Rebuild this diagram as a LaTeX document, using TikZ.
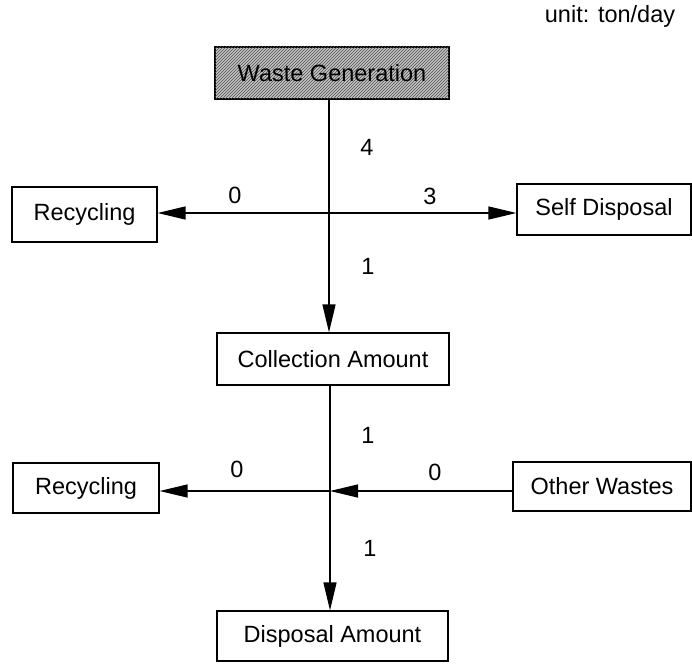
\documentclass[tikz,border=0pt]{standalone}
\usepackage{fontspec}
\setmainfont{Liberation Sans}
\usetikzlibrary{arrows.meta,patterns}
\begin{document}
\begin{tikzpicture}[x=1pt,y=-1pt,
  box/.style={draw,line width=1.2pt,rectangle,inner sep=0pt,font=\fontsize{23.5}{27}\selectfont},
  lbl/.style={font=\fontsize{23.5}{27}\selectfont,inner sep=0pt},
  flow/.style={line width=1.3pt,-{Triangle[length=28pt,width=13pt]}},
  plain/.style={line width=1.3pt}]
\useasboundingbox (0,0) rectangle (692,663);
\node[lbl] (unit) at (610,16) {unit: ton/day};
\node[box,minimum width=234pt,minimum height=52pt,fill=gray!45,postaction={pattern=north east lines,pattern color=black!70}] (wg) at (332,73) {};
\node[lbl] (wgt) at (wg) {Waste Generation};
\node[box,minimum width=145pt,minimum height=55pt] (rec1) at (84.5,214.5) {Recycling};
\node[box,minimum width=174pt,minimum height=51pt] (self) at (604,209.5) {Self Disposal};
\node[box,minimum width=232pt,minimum height=52pt] (coll) at (333,359) {Collection Amount};
\node[box,minimum width=146pt,minimum height=50pt] (rec2) at (86,488) {Recycling};
\node[box,minimum width=178pt,minimum height=49pt] (other) at (602,486.5) {Other Wastes};
\node[box,minimum width=231pt,minimum height=50pt] (disp) at (332.5,636) {Disposal Amount};
\coordinate (j1) at (329,213);
\coordinate (j2) at (330,491);
\draw[plain] (wg.south -| j1) -- (j1);
\draw[flow] (j1) -- (j1 |- coll.north);
\draw[flow] (j1) -- (rec1.east |- j1);
\draw[flow] (j1) -- (self.west |- j1);
\draw[plain] (coll.south -| j2) -- (j2);
\draw[flow] (j2) -- (j2 |- disp.north);
\draw[flow] (j2) -- (rec2.east |- j2);
\draw[flow] (other.west |- j2) -- (j2);
\node[lbl] (n4) at (367,147) {4};
\node[lbl] (n0a) at (235,195) {0};
\node[lbl] (n3) at (430,196) {3};
\node[lbl] (n1a) at (368,266) {1};
\node[lbl] (n1b) at (368,435) {1};
\node[lbl] (n0b) at (237,469) {0};
\node[lbl] (n0c) at (435,472) {0};
\node[lbl] (n1c) at (370,548) {1};
\end{tikzpicture}
\end{document}
